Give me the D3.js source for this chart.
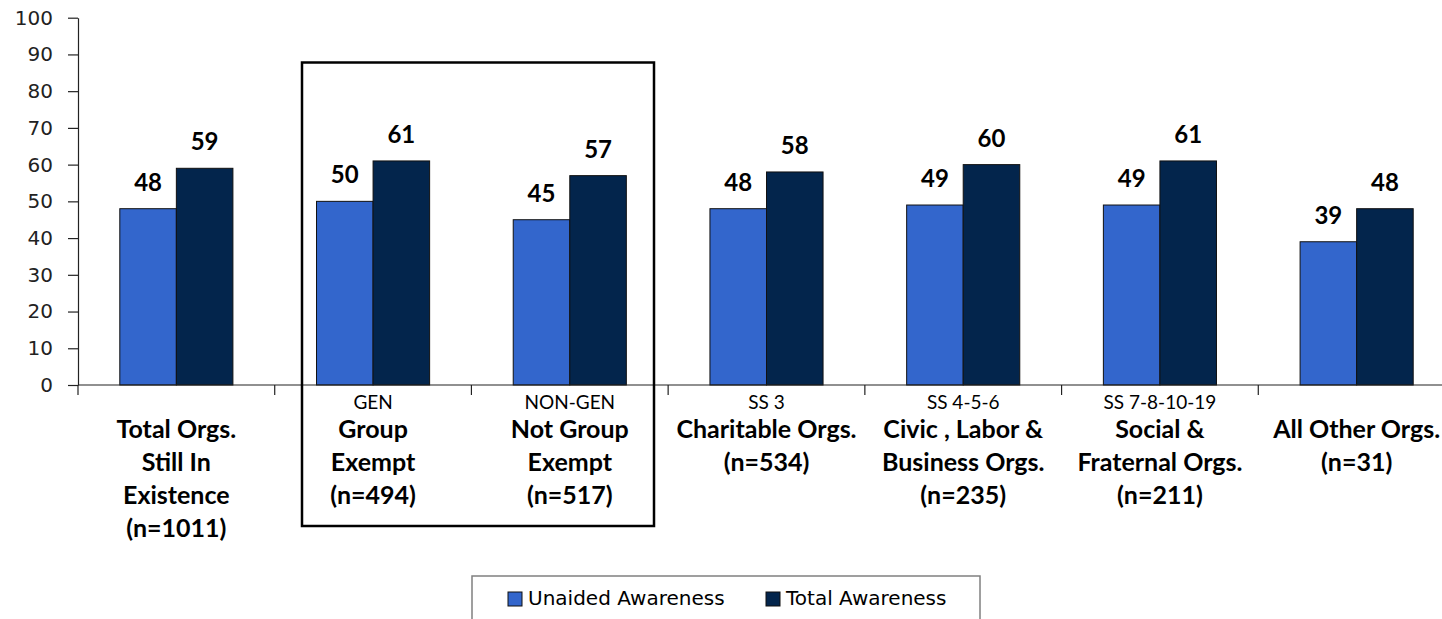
<!DOCTYPE html>
<html>
<head>
<meta charset="utf-8">
<script src="https://cdn.jsdelivr.net/npm/d3@7"></script>
<style>
  html, body { margin: 0; padding: 0; background: #fff; }
  svg { display: block; }
</style>
</head>
<body>
<div id="chart"></div>
<script>
// categories, as shown under the axis
const categories = ["total", "gen", "nongen", "ss3", "ss456", "ss781019", "other"];
const topLines = ["", "GEN", "NON-GEN", "SS 3", "SS 4-5-6", "SS 7-8-10-19", ""];
const mainLines = [
  ["Total Orgs.", "Still In", "Existence", "(n=1011)"],
  ["Group", "Exempt", "(n=494)"],
  ["Not Group", "Exempt", "(n=517)"],
  ["Charitable Orgs.", "(n=534)"],
  ["Civic , Labor &", "Business Orgs.", "(n=235)"],
  ["Social &", "Fraternal Orgs.", "(n=211)"],
  ["All Other Orgs.", "(n=31)"]
];
const seriesNames = ["Unaided Awareness", "Total Awareness"];
const unaided = [48, 50, 45, 48, 49, 49, 39];
const totalAw = [59, 61, 57, 58, 60, 61, 48];
const yTicks = [0, 10, 20, 30, 40, 50, 60, 70, 80, 90, 100];

const W = 1442, H = 619;
const colors = ["#3366cc", "#03254c"];
const labelFont = "Lato, 'Noto Sans', sans-serif";

let svg = d3.select("#chart").append("svg")
  .attr("width", W)
  .attr("height", H);

let x0 = d3.scaleBand()
  .domain(categories)
  .range([78, 1455])
  .padding(0);

let groupW = x0.bandwidth() * 0.575;
let x1 = d3.scaleBand()
  .domain(seriesNames)
  .range([(x0.bandwidth() - groupW) / 2, (x0.bandwidth() + groupW) / 2])
  .padding(0);

let y = d3.scaleLinear()
  .domain([0, 100])
  .range([385, 17.7]);

// bars
let rows = categories.map((c, i) => ({ cat: c, vals: [unaided[i], totalAw[i]] }));

let groups = svg.selectAll(".grp")
  .data(rows)
  .enter().append("g")
  .attr("class", "grp")
  .attr("transform", d => "translate(" + x0(d.cat) + ",0)");

groups.selectAll("rect")
  .data(d => d.vals.map((v, k) => ({ name: seriesNames[k], v: v, k: k })))
  .enter().append("rect")
  .attr("x", d => x1(d.name))
  .attr("width", x1.bandwidth())
  .attr("y", d => y(d.v))
  .attr("height", d => y(0) - y(d.v))
  .attr("fill", d => colors[d.k])
  .attr("stroke", "#111")
  .attr("stroke-width", 1);

groups.selectAll("text.val")
  .data(d => d.vals.map((v, k) => ({ name: seriesNames[k], v: v })))
  .enter().append("text")
  .attr("class", "val")
  .attr("x", d => x1(d.name) + x1.bandwidth() / 2)
  .attr("y", d => y(d.v) - 18)
  .attr("text-anchor", "middle")
  .attr("font-family", labelFont)
  .attr("font-weight", "bold")
  .attr("font-size", 24)
  .attr("fill", "#000")
  .text(d => d.v);

// y axis
let yAxis = svg.append("g")
  .attr("transform", "translate(78,0)")
  .call(d3.axisLeft(y).tickValues(yTicks).tickSize(10).tickSizeOuter(0).tickPadding(15));
yAxis.selectAll("text")
  .attr("font-family", "'DejaVu Sans', sans-serif")
  .attr("font-size", 20)
  .attr("fill", "#222");
yAxis.selectAll("line, path").attr("stroke", "#222").attr("stroke-width", 1.2);

// x axis line + category boundary ticks
let xAxis = svg.append("g");
xAxis.append("line")
  .attr("x1", 78).attr("x2", W)
  .attr("y1", y(0)).attr("y2", y(0))
  .attr("stroke", "#222").attr("stroke-width", 1.2);
let bounds = categories.map(c => x0(c)).concat([x0.range()[1]]);
xAxis.selectAll(".xt")
  .data(bounds)
  .enter().append("line")
  .attr("x1", d => d).attr("x2", d => d)
  .attr("y1", y(0)).attr("y2", y(0) + 10)
  .attr("stroke", "#222").attr("stroke-width", 1.2);

// category labels
let labs = svg.selectAll(".clab")
  .data(categories)
  .enter().append("g")
  .attr("class", "clab")
  .attr("transform", d => "translate(" + (x0(d) + x0.bandwidth() / 2) + ",0)");

labs.append("text")
  .attr("y", 409)
  .attr("text-anchor", "middle")
  .attr("font-family", labelFont)
  .attr("font-size", 19)
  .attr("fill", "#000")
  .text((d, i) => topLines[i]);

labs.each(function (d, i) {
  d3.select(this).selectAll(".ml")
    .data(mainLines[i])
    .enter().append("text")
    .attr("class", "ml")
    .attr("y", (t, j) => 438 + j * 33)
    .attr("text-anchor", "middle")
    .attr("font-family", labelFont)
    .attr("font-weight", "bold")
    .attr("font-size", 25)
    .attr("fill", "#000")
    .text(t => t);
});

// box around the GEN / NON-GEN pair
svg.append("rect")
  .attr("x", 302).attr("y", 62.5)
  .attr("width", 352).attr("height", 463.5)
  .attr("fill", "none")
  .attr("stroke", "#000")
  .attr("stroke-width", 2.5);

// legend
let legend = svg.append("g");
legend.append("rect")
  .attr("x", 472).attr("y", 576)
  .attr("width", 508).attr("height", 60)
  .attr("fill", "#fff")
  .attr("stroke", "#808080")
  .attr("stroke-width", 1.5);
let legX = [508, 766];
let items = legend.selectAll(".li")
  .data(seriesNames)
  .enter().append("g")
  .attr("transform", (d, i) => "translate(" + legX[i] + ",592)");
items.append("rect")
  .attr("width", 14).attr("height", 14)
  .attr("fill", (d, i) => colors[i])
  .attr("stroke", "#111").attr("stroke-width", 1);
items.append("text")
  .attr("x", 20).attr("y", 13)
  .attr("font-family", "'DejaVu Sans', sans-serif")
  .attr("font-size", 20)
  .attr("fill", "#000")
  .text(d => d);
</script>
</body>
</html>
